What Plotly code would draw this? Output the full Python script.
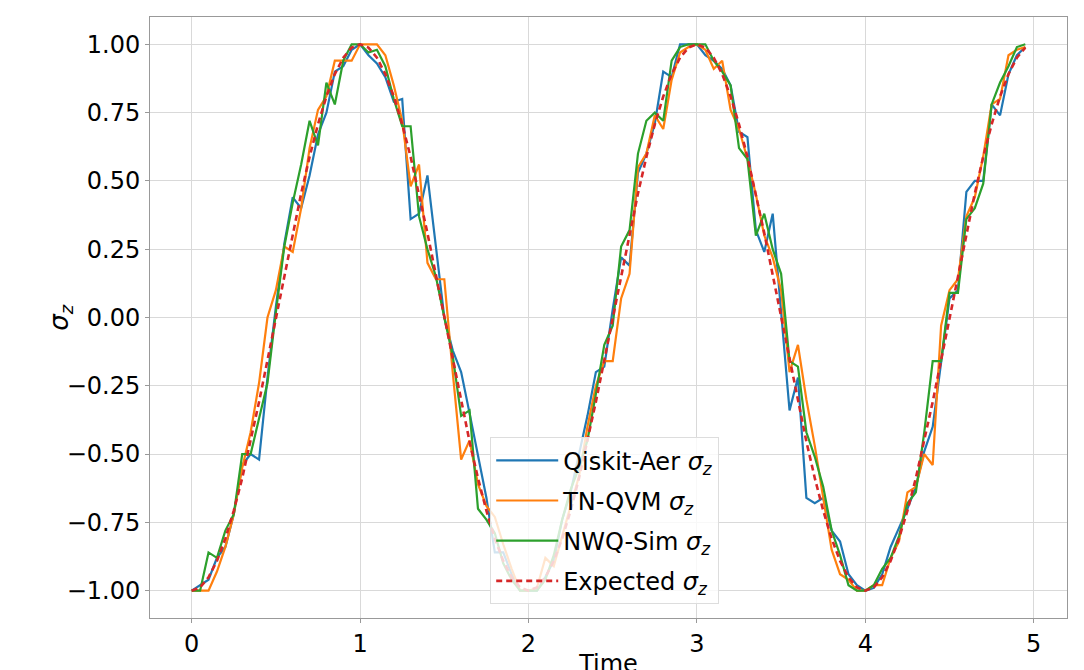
import plotly.graph_objects as go

time = [round(0.05 * k, 2) for k in range(100)]

qiskit_aer = [
    -1.0, -0.98, -0.96, -0.88, -0.84, -0.72, -0.54, -0.50, -0.52, -0.22,
    0.04, 0.27, 0.44, 0.40, 0.52, 0.67, 0.75, 0.90, 0.92, 0.98,
    1.0, 0.96, 0.93, 0.88, 0.79, 0.80, 0.36, 0.38, 0.52, 0.26,
    0.0, -0.12, -0.20, -0.35, -0.50, -0.66, -0.86, -0.86, -0.94, -1.0,
    -1.0, -1.0, -0.95, -0.89, -0.74, -0.64, -0.50, -0.36, -0.20, -0.18,
    0.03, 0.22, 0.19, 0.53, 0.60, 0.71, 0.90, 0.88, 1.0, 1.0,
    1.0, 0.96, 0.94, 0.91, 0.85, 0.68, 0.66, 0.32, 0.24, 0.38,
    0.01, -0.34, -0.22, -0.66, -0.68, -0.66, -0.78, -0.82, -0.94, -0.98,
    -1.0, -0.99, -0.94, -0.84, -0.77, -0.70, -0.62, -0.49, -0.40, -0.16,
    0.07, 0.10, 0.46, 0.50, 0.50, 0.78, 0.74, 0.89, 0.96, 0.99,
]

tn_qvm = [
    -1.0, -1.0, -1.0, -0.93, -0.84, -0.72, -0.55, -0.42, -0.24, 0.0,
    0.10, 0.26, 0.24, 0.40, 0.62, 0.76, 0.81, 0.94, 0.94, 0.94,
    1.0, 1.0, 1.0, 0.96, 0.85, 0.72, 0.48, 0.56, 0.20, 0.14,
    0.14, -0.20, -0.52, -0.45, -0.61, -0.69, -0.73, -0.83, -0.92, -1.0,
    -1.0, -0.99, -0.88, -0.91, -0.80, -0.70, -0.58, -0.40, -0.25, -0.16,
    -0.16, 0.07, 0.16, 0.55, 0.60, 0.74, 0.69, 0.87, 0.97, 0.99,
    1.0, 0.98, 0.91, 0.94, 0.76, 0.69, 0.58, 0.45, 0.30, 0.22,
    0.10, -0.20, -0.10, -0.30, -0.47, -0.66, -0.85, -0.94, -0.96, -1.0,
    -1.0, -0.98, -0.98, -0.88, -0.82, -0.64, -0.62, -0.50, -0.54, -0.03,
    0.10, 0.14, 0.37, 0.44, 0.59, 0.78, 0.80, 0.96, 0.98, 0.99,
]

nwq_sim = [
    -1.0, -1.0, -0.86, -0.88, -0.78, -0.72, -0.50, -0.50, -0.37, -0.24,
    0.02, 0.26, 0.42, 0.56, 0.72, 0.63, 0.86, 0.78, 0.94, 1.0,
    1.0, 0.97, 0.98, 0.92, 0.80, 0.70, 0.70, 0.37, 0.25, 0.15,
    0.0, -0.14, -0.36, -0.34, -0.70, -0.74, -0.79, -0.90, -0.96, -1.0,
    -1.0, -1.0, -0.96, -0.87, -0.74, -0.63, -0.55, -0.45, -0.28, -0.10,
    -0.03, 0.26, 0.32, 0.60, 0.72, 0.75, 0.72, 0.94, 0.99, 1.0,
    1.0, 1.0, 0.94, 0.90, 0.85, 0.62, 0.58, 0.30, 0.38, 0.25,
    0.16, -0.16, -0.18, -0.42, -0.51, -0.62, -0.78, -0.87, -0.98, -1.0,
    -1.0, -0.98, -0.92, -0.88, -0.80, -0.68, -0.64, -0.42, -0.16, -0.16,
    0.09, 0.09, 0.36, 0.40, 0.49, 0.78, 0.86, 0.92, 0.99, 1.0,
]

expected = [
    -1.0, -0.988, -0.951, -0.891, -0.809, -0.707, -0.588, -0.454, -0.309, -0.156,
    0.0, 0.156, 0.309, 0.454, 0.588, 0.707, 0.809, 0.891, 0.951, 0.988,
    1.0, 0.988, 0.951, 0.891, 0.809, 0.707, 0.588, 0.454, 0.309, 0.156,
    0.0, -0.156, -0.309, -0.454, -0.588, -0.707, -0.809, -0.891, -0.951, -0.988,
    -1.0, -0.988, -0.951, -0.891, -0.809, -0.707, -0.588, -0.454, -0.309, -0.156,
    0.0, 0.156, 0.309, 0.454, 0.588, 0.707, 0.809, 0.891, 0.951, 0.988,
    1.0, 0.988, 0.951, 0.891, 0.809, 0.707, 0.588, 0.454, 0.309, 0.156,
    0.0, -0.156, -0.309, -0.454, -0.588, -0.707, -0.809, -0.891, -0.951, -0.988,
    -1.0, -0.988, -0.951, -0.891, -0.809, -0.707, -0.588, -0.454, -0.309, -0.156,
    0.0, 0.156, 0.309, 0.454, 0.588, 0.707, 0.809, 0.891, 0.951, 0.988,
]

x_ticks = [0, 1, 2, 3, 4, 5]
y_ticks = [1.0, 0.75, 0.5, 0.25, 0.0, -0.25, -0.5, -0.75, -1.0]
y_tick_labels = ["1.00", "0.75", "0.50", "0.25", "0.00",
                 "\u22120.25", "\u22120.50", "\u22120.75", "\u22121.00"]

SZ = "<i>\u03c3</i><sub><i>z</i></sub>"

fig = go.Figure()
fig.add_trace(go.Scatter(x=time, y=qiskit_aer, mode="lines",
                         line=dict(color="#1f77b4", width=2.2),
                         name="Qiskit-Aer " + SZ, legendgroup="a"))
fig.add_trace(go.Scatter(x=time, y=tn_qvm, mode="lines",
                         line=dict(color="#ff7f0e", width=2.2),
                         name="TN-QVM " + SZ, legendgroup="b"))
fig.add_trace(go.Scatter(x=time, y=nwq_sim, mode="lines",
                         line=dict(color="#2ca02c", width=2.2),
                         name="NWQ-Sim " + SZ, legendgroup="c"))
fig.add_trace(go.Scatter(x=time, y=expected, mode="lines",
                         line=dict(color="#d62728", width=2.6, dash="6px,4px"),
                         name="Expected " + SZ, legendgroup="d"))

font_family = "DejaVu Sans"
fig.update_layout(
    width=1084, height=670,
    margin=dict(l=142, r=25, t=9, b=60),
    paper_bgcolor="white", plot_bgcolor="white",
    font=dict(family=font_family, size=24, color="black"),
    showlegend=True,
    legend=dict(x=0.371, y=0.023, xanchor="left", yanchor="bottom",
                bgcolor="rgba(255,255,255,0.8)", bordercolor="#dddddd",
                borderwidth=1, font=dict(size=24, family=font_family),
                tracegroupgap=6, itemwidth=62),
    xaxis=dict(range=[-0.2475, 5.1975], tickvals=x_ticks,
               ticktext=[str(v) for v in x_ticks],
               showgrid=True, gridcolor="#d9d9d9", gridwidth=1,
               zeroline=False, showline=True, linecolor="#999999",
               linewidth=1, mirror=True, ticks="outside", ticklen=4,
               tickcolor="#999999", tickfont=dict(size=24),
               title=dict(text="Time", font=dict(size=24), standoff=2),
               automargin=False),
    yaxis=dict(range=[-1.1, 1.1], tickvals=y_ticks, ticktext=y_tick_labels,
               showgrid=True, gridcolor="#d9d9d9", gridwidth=1,
               zeroline=False, showline=True, linecolor="#999999",
               linewidth=1, mirror=True, ticks="outside", ticklen=4,
               tickcolor="#999999", tickfont=dict(size=24),
               automargin=False),
    annotations=[dict(text=SZ, xref="paper", yref="paper",
                      x=-0.098, y=0.5, xanchor="center", yanchor="middle",
                      textangle=-90, showarrow=False,
                      font=dict(size=26, family=font_family))],
)

fig.write_html("out.html")
